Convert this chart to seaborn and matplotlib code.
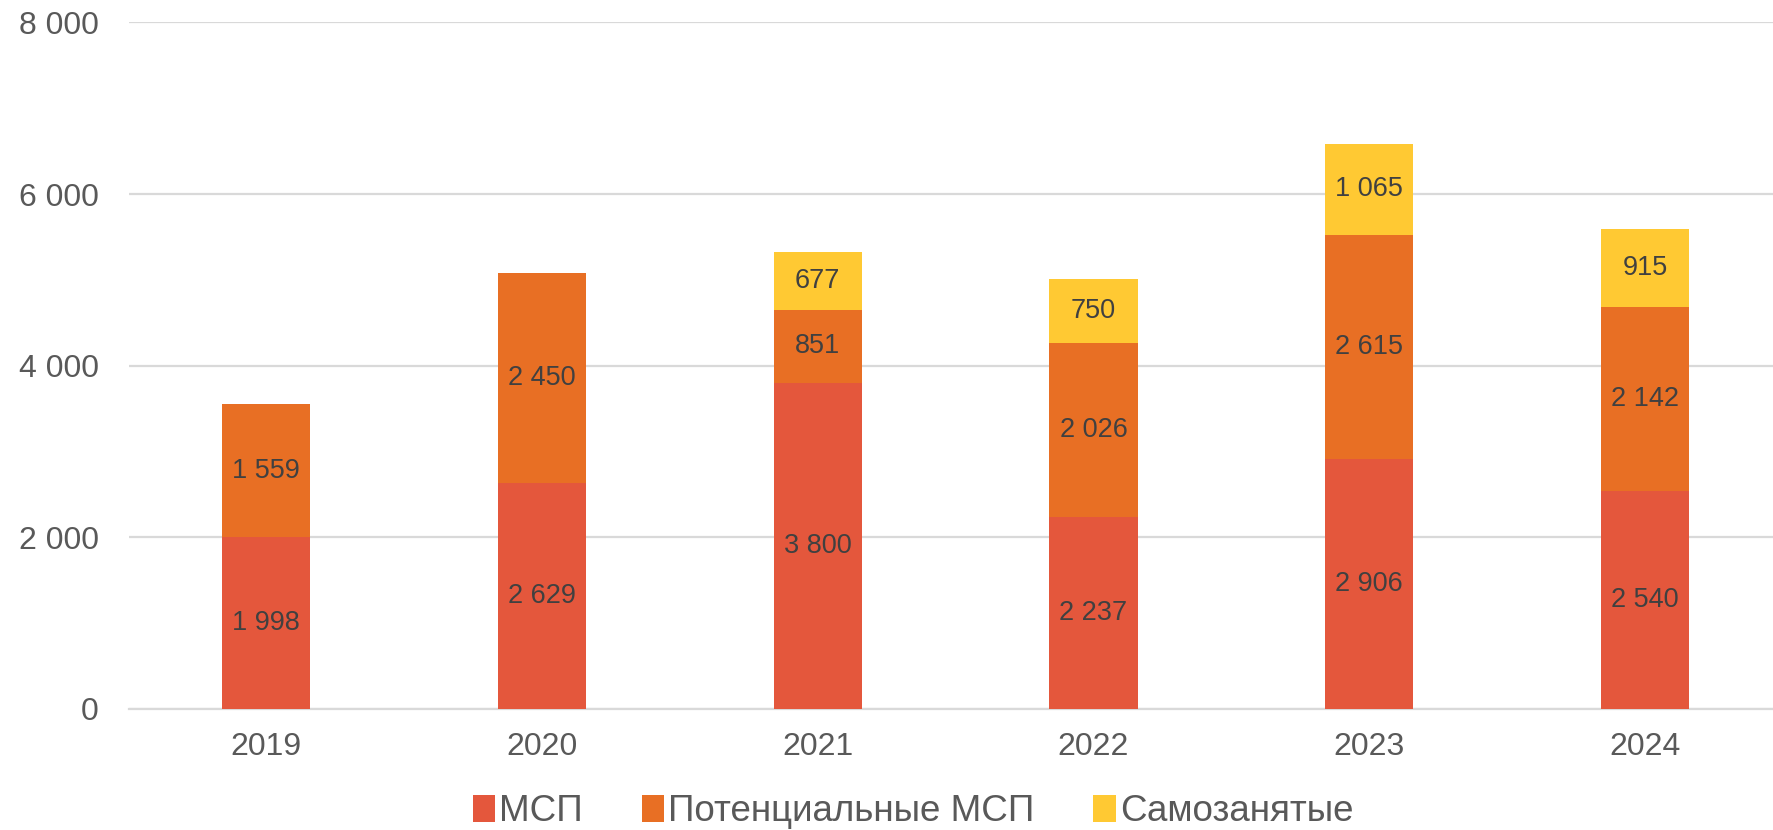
import matplotlib
matplotlib.use("Agg")
import matplotlib.pyplot as plt
from matplotlib.patches import Patch
from matplotlib.ticker import FuncFormatter
import pandas as pd
import seaborn as sns

years = ["2019", "2020", "2021", "2022", "2023", "2024"]
msp = [1998, 2629, 3800, 2237, 2906, 2540]
potential = [1559, 2450, 851, 2026, 2615, 2142]
selfemp = [0, 0, 677, 750, 1065, 915]

series_names = ["МСП", "Потенциальные МСП", "Самозанятые"]
colors = ["#E4573C", "#E86F24", "#FFC933"]

df = pd.DataFrame({"year": years, "msp": msp, "potential": potential, "selfemp": selfemp})
df["lvl1"] = df["msp"]
df["lvl2"] = df["msp"] + df["potential"]
df["lvl3"] = df["lvl2"] + df["selfemp"]

sns.set_style("white")
plt.rcParams["font.family"] = ["Liberation Sans", "DejaVu Sans"]

fig = plt.figure(figsize=(17.73, 8.30), dpi=100)
ax = fig.add_axes([0.073, 0.146, 0.927, 0.827])

# stacked bars drawn as overlapping cumulative totals
for col, c in zip(["lvl3", "lvl2", "lvl1"], colors[::-1]):
    sns.barplot(data=df, x="year", y=col, order=years, color=c, saturation=1,
                width=0.32, linewidth=0, ax=ax, zorder=3)

# segment labels
for i, row in df.iterrows():
    bottom = 0
    for key in ["msp", "potential", "selfemp"]:
        v = row[key]
        if v > 0:
            ax.text(i, bottom + v / 2, f"{v:,}".replace(",", " "), ha="center", va="center",
                    fontsize=19.5, color="#404040", zorder=4)
        bottom += v

ax.set_ylim(0, 8000)
ax.set_xlim(-0.496, 5.464)
ax.set_yticks([0, 2000, 4000, 6000, 8000])
ax.yaxis.set_major_formatter(FuncFormatter(lambda v, p: f"{int(v):,}".replace(",", " ")))
ax.grid(axis="y", color="#D9D9D9", linewidth=1.6, zorder=0)
ax.set_axisbelow(True)
ax.set_xlabel("")
ax.set_ylabel("")
for s in ["top", "right", "left"]:
    ax.spines[s].set_visible(False)
ax.spines["bottom"].set_color("#D9D9D9")
ax.spines["bottom"].set_linewidth(1.6)
ax.tick_params(axis="both", length=0, labelsize=23, colors="#595959")
ax.tick_params(axis="y", pad=22)
ax.tick_params(axis="x", pad=17)

handles = [Patch(facecolor=c, edgecolor="none") for c in colors]
fig.legend(handles, series_names, loc="center", bbox_to_anchor=(0.515, 0.022), ncol=3,
           frameon=False, fontsize=26.5, handlelength=0.6, handleheight=0.75,
           handletextpad=0.12, columnspacing=1.6, labelcolor="#595959")

fig.savefig("out.png", dpi=100)
